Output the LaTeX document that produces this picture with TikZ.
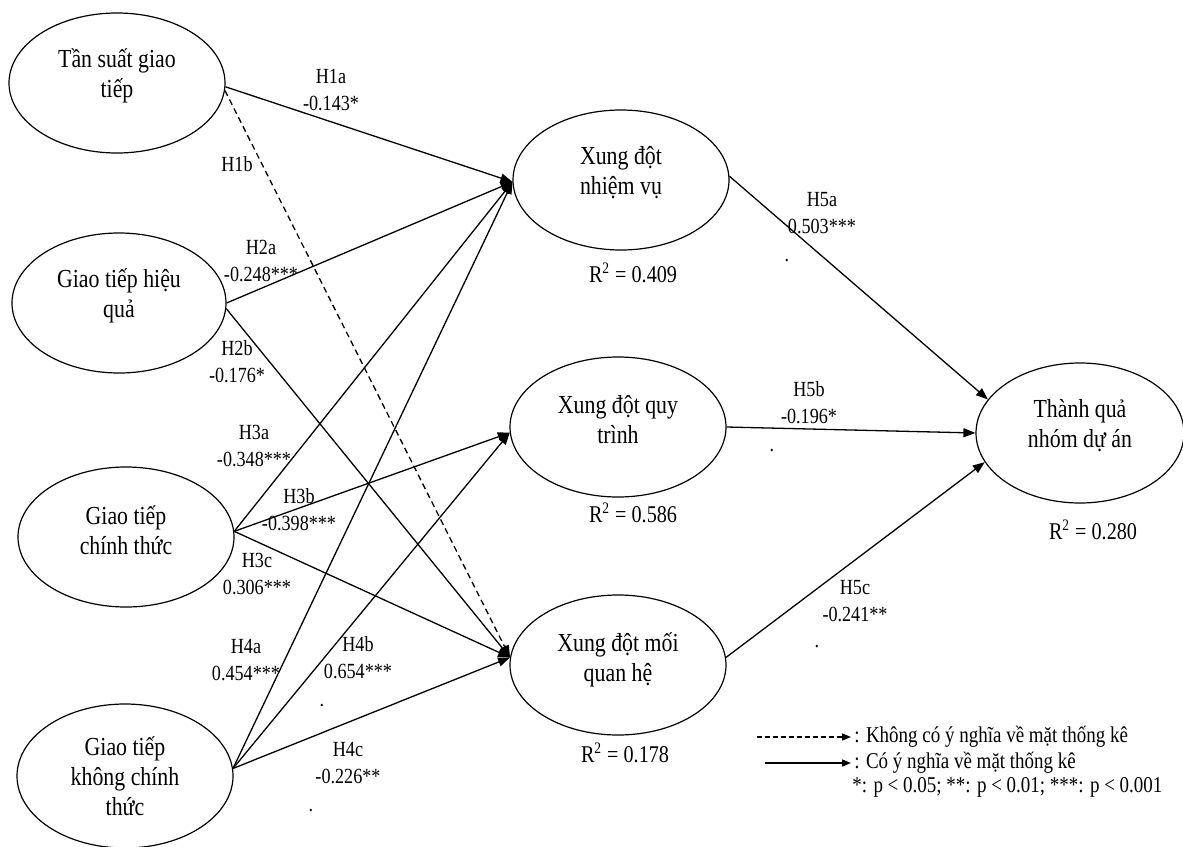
\documentclass[tikz,border=0pt]{standalone}
\usepackage{fontspec}
\setmainfont{Liberation Serif}[FakeStretch=0.84]
\usetikzlibrary{shapes.geometric,arrows.meta}
\begin{document}
\begin{tikzpicture}[x=0.5pt,y=-0.5pt,
 latent/.style={ellipse, draw, line width=0.6pt, inner sep=0pt, minimum height=70pt, minimum width=108pt},
 intext/.style={align=center, font=\fontsize{13}{15}\selectfont, yshift=3.5pt, inner sep=0pt},
 lab/.style={align=center, font=\fontsize{10.8}{13.5}\selectfont, inner sep=0pt},
 rsq/.style={font=\fontsize{12}{14}\selectfont, inner sep=0pt},
 leg/.style={font=\fontsize{11.3}{13}\selectfont, inner sep=0pt, anchor=west},
 sig/.style={line width=0.65pt, -{Triangle[length=6pt,width=4.5pt]}},
 nsig/.style={sig, dash pattern=on 3pt off 2pt},
 legsig/.style={line width=0.65pt, -{Triangle[length=4.5pt,width=3.5pt]}},
 legnsig/.style={legsig, dash pattern=on 2.5pt off 1.5pt},
]
\useasboundingbox (0,0) rectangle (1183,846);

% latent variables
\node[latent, label={[intext]center:Tần suất giao\\tiếp}] (tss) at (117,83) {};
\node[latent, minimum width=107pt, label={[intext]center:Giao tiếp hiệu\\quả}] (gthq) at (119,303) {};
\node[latent, label={[intext]center:Giao tiếp\\chính thức}] (gtct) at (126,537) {};
\node[latent, minimum height=72pt, label={[intext, yshift=-3.5pt]center:Giao tiếp\\không chính\\thức}] (gtkct) at (125,776) {};
\node[latent, label={[intext]center:Xung đột\\nhiệm vụ}] (xnv) at (621,180) {};
\node[latent, label={[intext]center:Xung đột quy\\trình}] (xqt) at (618,427) {};
\node[latent, label={[intext, yshift=-1pt]center:Xung đột mối\\quan hệ}] (xmq) at (618,665) {};
\node[latent, minimum width=104pt, label={[intext]center:Thành quả\\nhóm dự án}] (tq) at (1080,433) {};

% paths
\draw[sig]  (tss.-2)  -- (xnv.181);
\draw[nsig] (tss.-4)  -- (xmq.176);
\draw[sig]  (gthq.0)  -- (xnv.181);
\draw[sig]  (gthq.-3) -- (xmq.176);
\draw[sig]  (gtct.3)  -- (xnv.181);
\draw[sig]  (gtct.3)  -- (xqt.183);
\draw[sig]  (gtct.3)  -- (xmq.176);
\draw[sig]  (gtkct.4) -- (xnv.181);
\draw[sig]  (gtkct.4) -- (xqt.183);
\draw[sig]  (gtkct.4) -- (xmq.176);
\draw[sig]  (xnv.2)   -- (tq.160);
\draw[sig]  (xqt.0)   -- (tq.180);
\draw[sig]  (xmq.4)   -- (tq.197);

% path labels
\node[lab] (l1a) at (331,90)  {H1a\\-0.143*};
\node[lab] (l1b) at (237,164) {H1b};
\node[lab] (l2a) at (261,261) {H2a\\-0.248***};
\node[lab] (l2b) at (237,362) {H2b\\-0.176*};
\node[lab] (l3a) at (254,446) {H3a\\-0.348***};
\node[lab] (l3b) at (299,510) {H3b\\-0.398***};
\node[lab] (l3c) at (257,574) {H3c\\0.306***};
\node[lab] (l4a) at (246,660) {H4a\\0.454***};
\node[lab] (l4b) at (358,658) {H4b\\0.654***};
\node[lab] (d4b) at (322,706) {.};
\node[lab] (l4c) at (348,763) {H4c\\-0.226**};
\node[lab] (d4c) at (311,811) {.};
\node[lab] (l5a) at (822,213) {H5a\\0.503***};
\node[lab] (d5a) at (787,261) {.};
\node[lab] (l5b) at (809,403) {H5b\\-0.196*};
\node[lab] (d5b) at (772,451) {.};
\node[lab] (l5c) at (855,601) {H5c\\-0.241**};
\node[lab] (d5c) at (817,647) {.};

% R squared
\node[rsq] (r1) at (633,273) {R\textsuperscript{2} = 0.409};
\node[rsq] (r2) at (633,513) {R\textsuperscript{2} = 0.586};
\node[rsq] (r3) at (625,753) {R\textsuperscript{2} = 0.178};
\node[rsq] (r4) at (1093,530) {R\textsuperscript{2} = 0.280};

% legend
\coordinate (la1) at (757,737);
\coordinate (la2) at (851,737);
\coordinate (lb1) at (765,763);
\coordinate (lb2) at (851,763);
\draw[legnsig] (la1) -- (la2);
\draw[legsig] (lb1) -- (lb2);
\node[leg] (t1) at (854,737) {: Không có ý nghĩa về mặt thống kê};
\node[leg] (t2) at (854,763) {: Có ý nghĩa về mặt thống kê};
\node[leg] (t3) at (852,787) {*: p < 0.05; **: p < 0.01; ***: p < 0.001};
\end{tikzpicture}
\end{document}
